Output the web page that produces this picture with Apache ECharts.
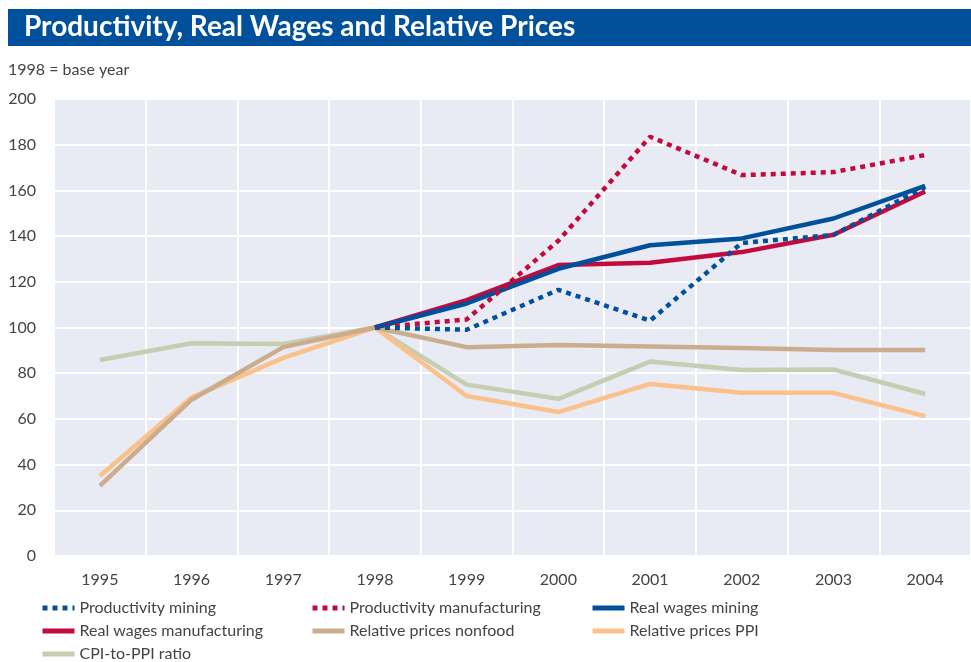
<!DOCTYPE html>
<html>
<head>
<meta charset="utf-8">
<script src="https://cdn.jsdelivr.net/npm/echarts@6/dist/echarts.min.js"></script>
<style>
  html, body { margin: 0; padding: 0; background: #fff; }
  #chart { width: 971px; height: 662px; }
</style>
</head>
<body>
<div id="chart"></div>
<script>
const years = ['1995', '1996', '1997', '1998', '1999', '2000', '2001', '2002', '2003', '2004'];

const productivityMining = [null, null, null, 100, 99, 116.5, 103, 137, 140.5, 161.5];
const productivityManufacturing = [null, null, null, 100, 103.5, 138, 183.5, 166.7, 168, 175.5];
const realWagesMining = [null, null, null, 100, 110.5, 125.7, 136, 139, 147.7, 162];
const realWagesManufacturing = [null, null, null, 100, 112, 127.3, 128.3, 133, 140.6, 159.5];
const relPricesNonfood = [30.7, 68.4, 91.4, 100, 91.4, 92.3, 91.7, 91, 90.2, 90.2];
const relPricesPPI = [35, 69.4, 86.7, 100, 70, 63, 75.3, 71.4, 71.4, 61.2];
const cpiToPpiRatio = [85.8, 93.1, 92.8, 100, 75, 68.8, 85.1, 81.4, 81.6, 70.9];

const yTicks = { min: 0, max: 200, interval: 20 };

const BLUE = '#00509b';
const RED = '#c20a3c';
const TAN = '#cbad8d';
const ORANGE = '#fbc18b';
const GREEN = '#c6cdb0';

const chart = echarts.init(document.getElementById('chart'));

const line = (name, data, color, dotted) => ({
  name,
  type: 'line',
  data,
  symbol: 'none',
  lineStyle: {
    width: 4.5,
    color,
    type: dotted ? [5, 5] : 'solid',
    cap: 'butt'
  },
  itemStyle: { color },
  emphasis: { disabled: true }
});

// one vertical legend per column, rows 23px apart
const legendBase = {
  orient: 'vertical',
  top: 600,
  height: 80,
  padding: 0,
  itemWidth: 32,
  itemHeight: 16,
  itemGap: 7,
  selectedMode: false,
  itemStyle: { opacity: 0 },
  lineStyle: { width: 5 },
  textStyle: { fontFamily: 'Lato', fontSize: 16, lineHeight: 16, color: '#444' }
};

chart.setOption({
  animation: false,
  graphic: [
    { type: 'rect', shape: { x: 8, y: 9, width: 963, height: 37 }, style: { fill: '#00509b' } },
    {
      type: 'text', left: 24, top: 13,
      style: { text: 'Productivity, Real Wages and Relative Prices', fill: '#fff', font: 'bold 28px Lato' }
    },
    {
      type: 'text', left: 8, top: 62,
      style: { text: '1998 = base year', fill: '#444', font: '16px Lato' }
    }
  ],
  legend: [
    Object.assign({ left: 40, data: ['Productivity mining', 'Real wages manufacturing', 'CPI-to-PPI ratio'] }, legendBase),
    Object.assign({ left: 310, data: ['Productivity manufacturing', 'Relative prices nonfood'] }, legendBase),
    Object.assign({ left: 590, data: ['Real wages mining', 'Relative prices PPI'] }, legendBase)
  ],
  grid: { left: 54, top: 99, width: 930, height: 457, backgroundColor: '#e8eaf4', show: true, borderWidth: 0 },
  xAxis: {
    type: 'category',
    data: years,
    boundaryGap: true,
    axisLine: { show: false },
    axisTick: { show: false },
    axisLabel: { fontFamily: 'Lato', fontSize: 16, color: '#444', margin: 16 },
    splitLine: { show: true, lineStyle: { color: '#fff', width: 2 } }
  },
  yAxis: {
    type: 'value',
    min: yTicks.min,
    max: yTicks.max,
    interval: yTicks.interval,
    axisLine: { show: false },
    axisTick: { show: false },
    axisLabel: { fontFamily: 'Lato', fontSize: 16, color: '#444', margin: 18 },
    splitLine: { show: true, lineStyle: { color: '#fff', width: 2 } }
  },
  series: [
    line('CPI-to-PPI ratio', cpiToPpiRatio, GREEN, false),
    line('Relative prices PPI', relPricesPPI, ORANGE, false),
    line('Relative prices nonfood', relPricesNonfood, TAN, false),
    line('Real wages manufacturing', realWagesManufacturing, RED, false),
    line('Real wages mining', realWagesMining, BLUE, false),
    line('Productivity manufacturing', productivityManufacturing, RED, true),
    line('Productivity mining', productivityMining, BLUE, true)
  ]
});
</script>
</body>
</html>
